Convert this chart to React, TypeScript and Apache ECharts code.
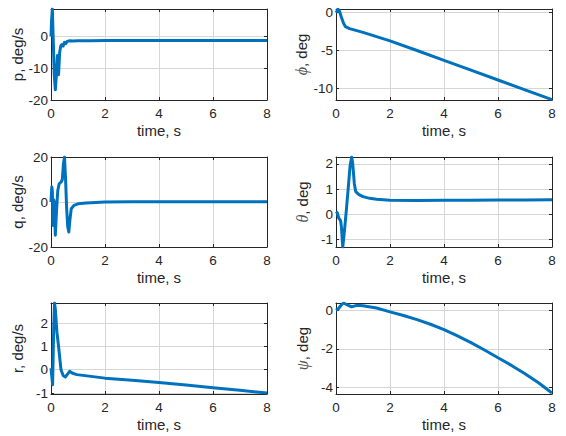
import React, { useEffect, useRef } from "react";
import * as echarts from "echarts";

// ---- data ----
const pTime = [0, 0.02, 0.05, 0.08, 0.12, 0.16, 0.2, 0.24, 0.28, 0.32, 0.36, 0.4, 0.45, 0.5, 0.55, 0.6, 0.7, 0.8, 1.0, 1.5, 2, 3, 4, 5, 6, 7, 8];
const pValues = [0, 5, 8.7, 0, -12, -16.8, -12, -6, -12, -5, -3, -2.5, -3, -1.8, -2.2, -1.5, -1.3, -1.4, -1.3, -1.3, -1.25, -1.25, -1.25, -1.25, -1.25, -1.25, -1.25];

const phiTime = [0, 0.08, 0.12, 0.2, 0.28, 0.35, 0.5, 1, 2, 3, 4, 5, 6, 7, 8];
const phiValues = [0, 0.45, 0.3, -0.6, -1.4, -1.85, -2.1, -2.6, -3.72, -5.0, -6.3, -7.6, -8.9, -10.2, -11.5];

const qTime = [0, 0.03, 0.05, 0.07, 0.1, 0.12, 0.16, 0.2, 0.25, 0.3, 0.38, 0.42, 0.46, 0.5, 0.54, 0.58, 0.62, 0.66, 0.7, 0.75, 0.85, 1.0, 1.3, 2, 3, 4, 5, 6, 7, 8];
const qValues = [0, 6.7, 5, -10.4, 1, 0, -14.8, -5, 5, 8, 9, 10, 17, 20, 10, -3, -11, -13.3, -8, -3, -1.5, -0.8, -0.4, 0, 0.1, 0.1, 0.1, 0.1, 0.1, 0.1];

const thetaTime = [0, 0.05, 0.1, 0.17, 0.2, 0.25, 0.3, 0.37, 0.45, 0.52, 0.58, 0.62, 0.68, 0.73, 0.85, 1, 1.25, 1.5, 2, 3, 4, 5, 6, 7, 8];
const thetaValues = [0.1, 0.05, -0.15, -0.25, -0.5, -1.3, -0.8, 0, 1.0, 1.9, 2.27, 2.0, 1.2, 0.9, 0.78, 0.7, 0.63, 0.59, 0.55, 0.54, 0.55, 0.55, 0.56, 0.56, 0.57];

const rTime = [0, 0.06, 0.1, 0.13, 0.16, 0.22, 0.28, 0.37, 0.45, 0.53, 0.62, 0.69, 0.8, 0.96, 2, 3, 4, 5, 6, 7, 8];
const rValues = [0.07, -0.64, 1.8, 2.86, 2.6, 1.6, 1.0, 0, -0.25, -0.31, -0.18, -0.07, -0.15, -0.21, -0.36, -0.45, -0.55, -0.65, -0.77, -0.88, -1.0];

const psiTime = [0, 0.08, 0.18, 0.28, 0.4, 0.58, 0.76, 1.0, 1.5, 2, 2.5, 3, 3.5, 4, 4.5, 5, 5.5, 6, 6.5, 7, 7.5, 8];
const psiValues = [0, 0.07, 0.25, 0.38, 0.3, 0.18, 0.26, 0.24, 0.12, -0.08, -0.27, -0.48, -0.72, -1.0, -1.32, -1.67, -2.05, -2.45, -2.85, -3.28, -3.75, -4.28];

const xTicks = [0, 2, 4, 6, 8];

// panel definitions
const panels = [
  { name: "p, deg/s", t: pTime, v: pValues, min: -20, max: 8.7, step: 10, col: 0, row: 0 },
  { name: "{g|ϕ}, deg", t: phiTime, v: phiValues, min: -11.55, max: 0.49, step: 5, col: 1, row: 0 },
  { name: "q, deg/s", t: qTime, v: qValues, min: -20, max: 20, step: 20, col: 0, row: 1 },
  { name: "{g|θ}, deg", t: thetaTime, v: thetaValues, min: -1.3, max: 2.27, step: 1, col: 1, row: 1 },
  { name: "r, deg/s", t: rTime, v: rValues, min: -1.04, max: 2.86, step: 1, col: 0, row: 2 },
  { name: "{g|ψ}, deg", t: psiTime, v: psiValues, min: -4.33, max: 0.38, step: 2, col: 1, row: 2 },
];

const colLeft = [51, 336];
const rowTop = [9, 157, 303];
const rowHeight = [91, 90, 91];
const W = 216;

const TXT = "#262626";
const FONT = "'Liberation Sans', Arial, sans-serif";

export default function App() {
  const ref = useRef<HTMLDivElement>(null);
  useEffect(() => {
    if (!ref.current) return;
    const chart = echarts.init(ref.current, undefined, { renderer: "svg" });
    const grids: any[] = [];
    const xAxes: any[] = [];
    const yAxes: any[] = [];
    const series: any[] = [];
    panels.forEach((pn, i) => {
      grids.push({ left: colLeft[pn.col], top: rowTop[pn.row], width: W, height: rowHeight[pn.row] });
      const lineStyle = { color: TXT, width: 1 };
      const onStep = (val: number) => Math.abs(val / pn.step - Math.round(val / pn.step)) < 1e-6;
      xAxes.push({
        type: "value", gridIndex: i, min: 0, max: 8, interval: 2, position: "bottom",
        axisLine: { show: true, onZero: false, lineStyle },
        axisTick: { show: true, inside: true, length: 3, lineStyle },
        axisLabel: { color: TXT, fontSize: 13.5, fontFamily: FONT, margin: 6, formatter: (v: number) => (xTicks.includes(v) ? String(v) : "") },
        splitLine: { show: true, lineStyle: { color: "#d6d6d6", width: 1 } },
        name: "time, s", nameLocation: "middle", nameGap: 23,
        nameTextStyle: { color: TXT, fontSize: 15, fontFamily: FONT },
      });
      xAxes.push({
        type: "value", gridIndex: i, min: 0, max: 8, interval: 2, position: "top",
        axisLine: { show: true, onZero: false, lineStyle },
        axisTick: { show: true, inside: true, length: 3, lineStyle },
        axisLabel: { show: false }, splitLine: { show: false },
      });
      const yCommon = {
        type: "value", gridIndex: i, min: pn.min, max: pn.max,
        minInterval: pn.step, maxInterval: pn.step,
        splitNumber: Math.max(1, Math.round((pn.max - pn.min) / pn.step)),
      };
      yAxes.push({
        ...yCommon, position: "left",
        axisLine: { show: true, onZero: false, lineStyle },
        axisTick: { show: true, inside: true, length: 3, lineStyle },
        axisLabel: { color: TXT, fontSize: 13.5, fontFamily: FONT, margin: 3, formatter: (v: number) => (onStep(v) ? String(Math.round(v)) : "") },
        splitLine: { show: true, lineStyle: { color: "#d6d6d6", width: 1 } },
        name: pn.name, nameLocation: "middle", nameRotate: 90, nameGap: 26,
        nameTextStyle: {
          color: TXT, fontSize: 15, fontFamily: FONT,
          rich: { g: { fontFamily: "'Liberation Serif', 'DejaVu Serif', serif", fontStyle: "italic", fontSize: 16, color: "#555" } },
        },
      });
      yAxes.push({
        ...yCommon, position: "right",
        axisLine: { show: true, onZero: false, lineStyle },
        axisTick: { show: true, inside: true, length: 3, lineStyle },
        axisLabel: { show: false }, splitLine: { show: false },
      });
      series.push({
        type: "line", xAxisIndex: 2 * i, yAxisIndex: 2 * i,
        data: pn.t.map((t, k) => [t, pn.v[k]]),
        showSymbol: false, symbol: "none",
        lineStyle: { color: "#0072BD", width: 3, join: "round" },
        clip: true,
      });
    });
    chart.setOption({ animation: false, backgroundColor: "#ffffff", grid: grids, xAxis: xAxes, yAxis: yAxes, series });
    return () => chart.dispose();
  }, []);
  return <div ref={ref} style={{ position: "absolute", left: 0, top: 0, width: 566, height: 436 }} />;
}
